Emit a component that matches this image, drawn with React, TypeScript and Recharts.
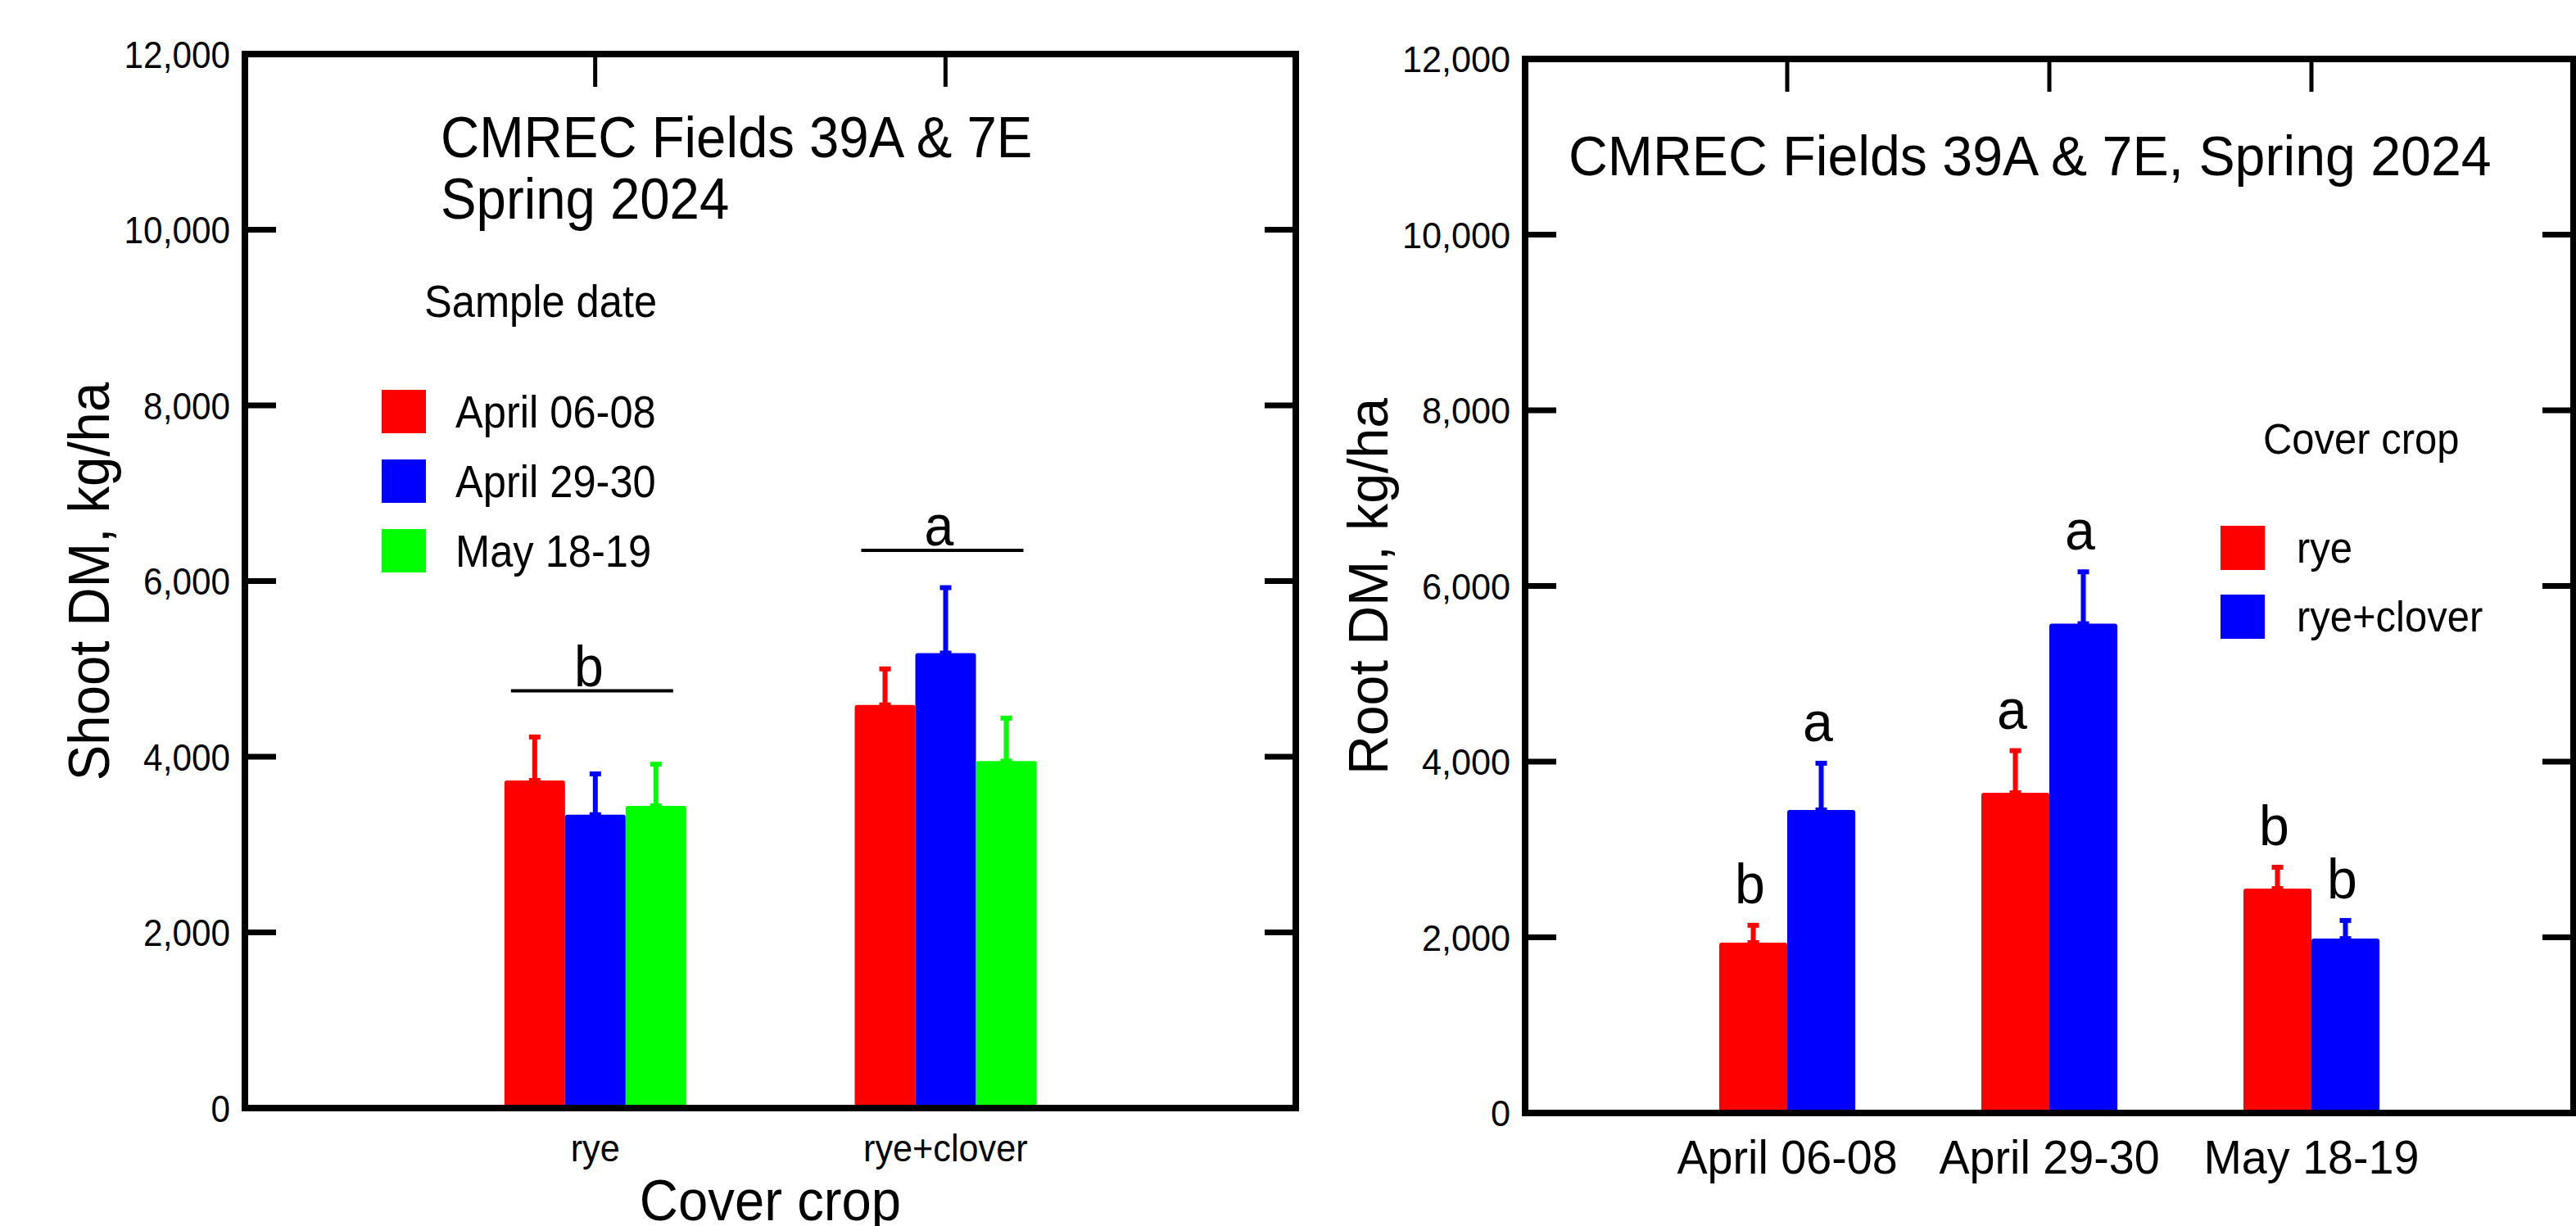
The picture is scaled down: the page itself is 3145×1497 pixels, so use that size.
import React from "react"
import { Bar, BarChart, ErrorBar, LabelList, Legend, XAxis, YAxis } from "recharts"

// Left panel: shoot dry matter by cover crop, one series per sample date
const coverCrops = ["rye", "rye+clover"]
const shootApr06 = [3730, 4590]
const shootApr29 = [3340, 5180]
const shootMay18 = [3440, 3950]
const shootApr06Err = [495, 410]
const shootApr29Err = [465, 745]
const shootMay18Err = [475, 490]
const shootGroupLetters = ["b", "a"]
const shootGroupLevel = [4750, 6350]

// Right panel: root dry matter by sample date, one series per cover crop
const sampleDates = ["April 06-08", "April 29-30", "May 18-19"]
const rootRye = [1940, 3645, 2555]
const rootRyeClover = [3450, 5570, 1985]
const rootRyeErr = [197, 480, 243]
const rootRyeCloverErr = [532, 591, 207]
const rootRyeLetters = ["b", "a", "b"]
const rootRyeCloverLetters = ["a", "a", "b"]

const yTicks = [0, 2000, 4000, 6000, 8000, 10000, 12000]

const FONT = "Arial, 'Liberation Sans', sans-serif"
const RED = "#ff0000"
const BLUE = "#0000ff"
const GREEN = "#00ff00"

const shootData = coverCrops.map((crop, i) => ({
    crop,
    apr06: shootApr06[i],
    apr29: shootApr29[i],
    may18: shootMay18[i],
    apr06Err: [0, shootApr06Err[i]],
    apr29Err: [0, shootApr29Err[i]],
    may18Err: [0, shootMay18Err[i]],
    letter: shootGroupLetters[i],
}))

const rootData = sampleDates.map((date, i) => ({
    date,
    rye: rootRye[i],
    ryeClover: rootRyeClover[i],
    ryeErr: [0, rootRyeErr[i]],
    ryeCloverErr: [0, rootRyeCloverErr[i]],
    ryeLetter: rootRyeLetters[i],
    ryeCloverLetter: rootRyeCloverLetters[i],
}))

// panel geometry (sx = horizontal squeeze of the lettering, the original font is a bit narrow)
const L = { w: 1600, h: 1497, top: 66, left: 299, right: 1582, bottom: 1353, sx: 0.92 }
const R = { x0: 1600, w: 1545, h: 1497, top: 72, left: 262, right: 1542, bottom: 1359, sx: 0.96 }

const fmt = (v: number) => v.toLocaleString("en-US")

// svg text, squeezed horizontally
const SText = (p: any) => (
    <text
        transform={`translate(${p.x},${p.y})${p.rotate ? ` rotate(${p.rotate})` : ""} scale(${p.sx},1)`}
        textAnchor={p.anchor ?? "start"}
        dy={p.middle ? "0.36em" : undefined}
        fontSize={p.size}
        fontFamily={FONT}
        fill="#000"
    >
        {p.children}
    </text>
)

const makeYTick = (plotW: number, size: number, sx: number) => (props: any) => {
    const { x, y, payload } = props
    return (
        <g>
            <line x1={x} x2={x + 38} y1={y} y2={y} stroke="#000" strokeWidth={7} />
            <line x1={x + plotW - 38} x2={x + plotW} y1={y} y2={y} stroke="#000" strokeWidth={7} />
            <SText x={x - 18} y={y} middle anchor="end" size={size} sx={sx}>
                {fmt(payload.value)}
            </SText>
        </g>
    )
}

const makeXTick = (plotH: number, size: number, gap: number, sx: number) => (props: any) => {
    const { x, y, payload } = props
    return (
        <g>
            <line x1={x} x2={x} y1={y - plotH} y2={y - plotH + 40} stroke="#000" strokeWidth={5} />
            <SText x={x} y={y + gap} middle anchor="middle" size={size} sx={sx}>
                {payload.value}
            </SText>
        </g>
    )
}

const boxOf = (props: any) => {
    const vb = props.viewBox ?? props
    return { x: Number(vb.x), y: Number(vb.y), width: Number(vb.width), height: Number(vb.height) }
}

// group letter with a line over the three shoot bars (drawn from the middle bar)
const ShootGroupMark = (props: any) => {
    const { x, y, width, height } = boxOf(props)
    const i = props.index
    const scale = height / shootApr29[i]
    const ly = y + height - shootGroupLevel[i] * scale
    const cx = x + width / 2
    return (
        <g>
            <line x1={cx - 103} x2={cx + 95} y1={ly} y2={ly} stroke="#000" strokeWidth={4} />
            <SText x={cx - 8} y={ly - 6} anchor="middle" size={70} sx={L.sx}>
                {props.value}
            </SText>
        </g>
    )
}

const letterAbove = (values: number[], errs: number[]) => (props: any) => {
    const { x, y, width, height } = boxOf(props)
    const i = props.index
    const scale = height / values[i]
    const top = y - errs[i] * scale
    return (
        <SText x={x + width / 2 - 4} y={top - 27} anchor="middle" size={69} sx={R.sx}>
            {props.value}
        </SText>
    )
}

const squeezed = (sx: number): React.CSSProperties => ({
    display: "inline-block",
    transform: `scaleX(${sx})`,
    transformOrigin: "0 50%",
    whiteSpace: "nowrap",
})

const makeLegend = (title: string, rowTop: number, rowStep: number, sq: number, gap: number, fontSize: number, sx: number) => (props: any) => {
    const items = props.payload ?? []
    return (
        <div style={{ position: "relative", width: 420, height: 320, fontFamily: FONT, color: "#000" }}>
            <div style={{ position: "absolute", left: 52, top: 0, fontSize, lineHeight: "76px" }}>
                <span style={squeezed(sx)}>{title}</span>
            </div>
            {items.map((p: any, i: number) => (
                <div key={p.value} style={{ position: "absolute", left: 0, top: rowTop + i * rowStep, display: "flex", alignItems: "center", height: sq }}>
                    <div style={{ width: 54, height: sq, background: p.color }} />
                    <span style={{ marginLeft: gap, fontSize, ...squeezed(sx) }}>{p.value}</span>
                </div>
            ))}
        </div>
    )
}

const frameStyle = (left: number, top: number, right: number, bottom: number): React.CSSProperties => ({
    position: "absolute",
    left: left - 4,
    top: top - 4,
    width: right - left + 8,
    height: bottom - top + 8,
    boxSizing: "border-box",
    border: "8px solid #000",
    pointerEvents: "none",
})

function ShootPanel() {
    const plotW = L.right - L.left
    const plotH = L.bottom - L.top
    return (
        <div style={{ position: "absolute", left: 0, top: 0, width: L.w, height: L.h }}>
            <BarChart
                width={L.w}
                height={L.h}
                data={shootData}
                margin={{ top: L.top, right: L.w - L.right, bottom: 0, left: 0 }}
                barSize={74}
                barGap={0}
            >
                <XAxis
                    dataKey="crop"
                    height={L.h - L.bottom}
                    padding={{ left: plotW / 6, right: plotW / 6 }}
                    axisLine={false}
                    tickLine={false}
                    tickSize={0}
                    tickMargin={0}
                    interval={0}
                    tick={makeXTick(plotH, 47, 48, L.sx)}
                    label={{
                        content: () => (
                            <SText x={(L.left + L.right) / 2} y={1490} anchor="middle" size={71} sx={L.sx}>
                                Cover crop
                            </SText>
                        ),
                    }}
                />
                <YAxis
                    width={L.left}
                    domain={[0, 12000]}
                    ticks={yTicks}
                    interval={0}
                    axisLine={false}
                    tickLine={false}
                    tickSize={0}
                    tickMargin={0}
                    tick={makeYTick(plotW, 46, L.sx)}
                    label={{
                        content: () => (
                            <SText x={107} y={710} rotate={-90} middle anchor="middle" size={71} sx={L.sx}>
                                Shoot DM, kg/ha
                            </SText>
                        ),
                    }}
                />
                <Legend
                    layout="horizontal"
                    verticalAlign="middle"
                    align="center"
                    wrapperStyle={{ position: "absolute", left: 466, top: 330, width: 420, height: 320 }}
                    content={makeLegend("Sample date", 146, 85, 53, 36, 55, L.sx)}
                />
                <Bar dataKey="apr06" name="April 06-08" fill={RED} radius={[3, 3, 0, 0]} isAnimationActive={false}>
                    <ErrorBar dataKey="apr06Err" direction="y" width={7} strokeWidth={6} stroke={RED} />
                </Bar>
                <Bar dataKey="apr29" name="April 29-30" fill={BLUE} radius={[3, 3, 0, 0]} isAnimationActive={false}>
                    <ErrorBar dataKey="apr29Err" direction="y" width={7} strokeWidth={6} stroke={BLUE} />
                    <LabelList dataKey="letter" content={ShootGroupMark} />
                </Bar>
                <Bar dataKey="may18" name="May 18-19" fill={GREEN} radius={[3, 3, 0, 0]} isAnimationActive={false}>
                    <ErrorBar dataKey="may18Err" direction="y" width={7} strokeWidth={6} stroke={GREEN} />
                </Bar>
            </BarChart>
            <div style={{ position: "absolute", left: 538, top: 130, fontFamily: FONT, fontSize: 71, lineHeight: "75px", color: "#000" }}>
                <span style={squeezed(L.sx)}>CMREC Fields 39A &amp; 7E</span>
                <br />
                <span style={squeezed(L.sx)}>Spring 2024</span>
            </div>
            <div style={frameStyle(L.left, L.top, L.right, L.bottom)} />
        </div>
    )
}

function RootPanel() {
    const plotW = R.right - R.left
    const plotH = R.bottom - R.top
    return (
        <div style={{ position: "absolute", left: R.x0, top: 0, width: R.w, height: R.h }}>
            <BarChart
                width={R.w}
                height={R.h}
                data={rootData}
                margin={{ top: R.top, right: R.w - R.right, bottom: 0, left: 0 }}
                barSize={83}
                barGap={0}
            >
                <XAxis
                    dataKey="date"
                    height={R.h - R.bottom}
                    padding={{ left: plotW / 8, right: plotW / 8 }}
                    axisLine={false}
                    tickLine={false}
                    tickSize={0}
                    tickMargin={0}
                    interval={0}
                    tick={makeXTick(plotH, 58, 53, R.sx)}
                />
                <YAxis
                    width={R.left}
                    domain={[0, 12000]}
                    ticks={yTicks}
                    interval={0}
                    axisLine={false}
                    tickLine={false}
                    tickSize={0}
                    tickMargin={0}
                    tick={makeYTick(plotW, 45, R.sx)}
                    label={{
                        content: () => (
                            <SText x={69} y={716} rotate={-90} middle anchor="middle" size={69} sx={R.sx}>
                                Root DM, kg/ha
                            </SText>
                        ),
                    }}
                />
                <Legend
                    layout="horizontal"
                    verticalAlign="middle"
                    align="center"
                    wrapperStyle={{ position: "absolute", left: 1111, top: 499, width: 420, height: 320 }}
                    content={makeLegend("Cover crop", 143, 84, 54, 39, 51, R.sx)}
                />
                <Bar dataKey="rye" name="rye" fill={RED} radius={[3, 3, 0, 0]} isAnimationActive={false}>
                    <ErrorBar dataKey="ryeErr" direction="y" width={7} strokeWidth={6} stroke={RED} />
                    <LabelList dataKey="ryeLetter" content={letterAbove(rootRye, rootRyeErr)} />
                </Bar>
                <Bar dataKey="ryeClover" name="rye+clover" fill={BLUE} radius={[3, 3, 0, 0]} isAnimationActive={false}>
                    <ErrorBar dataKey="ryeCloverErr" direction="y" width={7} strokeWidth={6} stroke={BLUE} />
                    <LabelList dataKey="ryeCloverLetter" content={letterAbove(rootRyeClover, rootRyeCloverErr)} />
                </Bar>
            </BarChart>
            <div style={{ position: "absolute", left: 315, top: 153, fontFamily: FONT, fontSize: 69, lineHeight: "76px", color: "#000" }}>
                <span style={squeezed(R.sx)}>CMREC Fields 39A &amp; 7E, Spring 2024</span>
            </div>
            <div style={frameStyle(R.left, R.top, R.right, R.bottom)} />
        </div>
    )
}

export default function App() {
    return (
        <div style={{ position: "absolute", left: 0, top: 0, width: 3145, height: 1497, background: "#fff", overflow: "hidden", fontFamily: FONT }}>
            <ShootPanel />
            <RootPanel />
        </div>
    )
}
